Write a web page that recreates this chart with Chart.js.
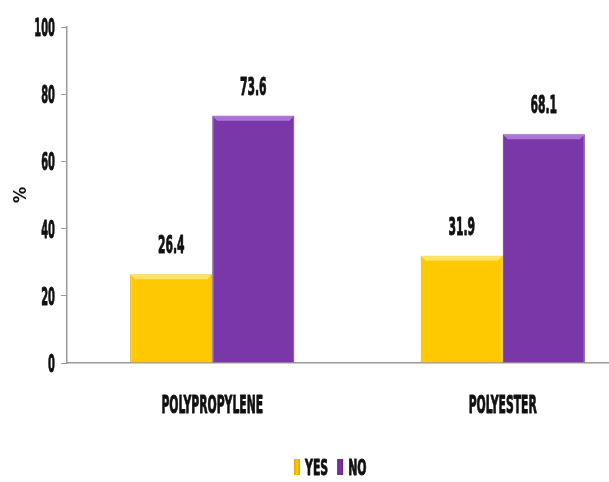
<!DOCTYPE html>
<html>
<head>
<meta charset="utf-8">
<script src="https://cdn.jsdelivr.net/npm/chart.js@4.4.0/dist/chart.umd.min.js"></script>
<style>
  html, body { margin: 0; padding: 0; background: #fff; overflow: hidden; }
  #wrap { width: 648px; height: 482px; }
</style>
</head>
<body>
<div id="wrap"><canvas id="fiberChart" width="648" height="482"></canvas></div>
<script>
const categories = ['POLYPROPYLENE', 'POLYESTER'];
const seriesNames = ['YES', 'NO'];
const yesValues = [26.4, 31.9];
const noValues = [73.6, 68.1];
const yTicks = [0, 20, 40, 60, 80, 100];

const FONT = '"DejaVu Sans Condensed", "DejaVu Sans", sans-serif';
const INK = '#111';

// tall, squeezed lettering: draw with a horizontal scale, slightly stroked for weight
function narrowText(ctx, str, x, y, size, sx, align) {
    ctx.save();
    ctx.font = 'bold ' + size + 'px ' + FONT;
    ctx.fillStyle = INK;
    ctx.strokeStyle = INK;
    ctx.lineWidth = 0.9;
    ctx.lineJoin = 'round';
    ctx.textBaseline = 'alphabetic';
    ctx.textAlign = align || 'center';
    ctx.translate(x, y);
    ctx.scale(sx, 1);
    ctx.fillText(str, 0, 0);
    ctx.strokeText(str, 0, 0);
    ctx.restore();
}

// horizontal shading so the bars look bevelled
function barFill(base, dark) {
    return function(context) {
        const el = context.element;
        const chart = context.chart;
        if (!el || !chart.chartArea) return base;
        const x = el.x, w = el.width;
        if (!Number.isFinite(x) || !Number.isFinite(w) || w <= 0) return base;
        const g = chart.ctx.createLinearGradient(x - w / 2, 0, x + w / 2, 0);
        g.addColorStop(0, dark);
        g.addColorStop(0.06, base);
        g.addColorStop(0.94, base);
        g.addColorStop(1, dark);
        return g;
    };
}

const fills = ['#FFC900', '#7A37A7'];
const edges = ['#E0A800', '#5E2584'];

// lighter strip along the top edge of every bar
const barTops = {
    id: 'barTops',
    afterDatasetsDraw(chart) {
        const ctx = chart.ctx;
        const tops = ['rgba(255,235,120,0.8)', 'rgba(185,130,230,0.8)'];
        ctx.save();
        chart.data.datasets.forEach((ds, i) => {
            chart.getDatasetMeta(i).data.forEach(bar => {
                const half = bar.width / 2;
                ctx.fillStyle = tops[i];
                ctx.beginPath();
                ctx.moveTo(bar.x - half, bar.y);
                ctx.lineTo(bar.x + half, bar.y);
                ctx.lineTo(bar.x + half - 5, bar.y + 5);
                ctx.lineTo(bar.x - half + 5, bar.y + 5);
                ctx.closePath();
                ctx.fill();
            });
        });
        ctx.restore();
    }
};

// all the lettering: tick labels, category names, values, axis title, legend
const lettering = {
    id: 'lettering',
    afterDraw(chart) {
        const ctx = chart.ctx;
        const xs = chart.scales.x, ys = chart.scales.y;

        ys.ticks.forEach(t => {
            narrowText(ctx, String(t.value), ys.right - 12, ys.getPixelForValue(t.value) + 9, 25, 0.44, 'right');
        });

        categories.forEach((c, i) => {
            narrowText(ctx, c, xs.getPixelForValue(i), 413, 25, 0.48);
        });

        chart.data.datasets.forEach((ds, i) => {
            chart.getDatasetMeta(i).data.forEach((bar, j) => {
                narrowText(ctx, ds.data[j].toFixed(1), bar.x, bar.y - 21, 25, 0.48);
            });
        });

        // rotated "%" axis title
        ctx.save();
        ctx.translate(26, (chart.chartArea.top + chart.chartArea.bottom) / 2);
        ctx.rotate(-Math.PI / 2);
        ctx.font = 'bold 18px ' + FONT;
        ctx.fillStyle = INK;
        ctx.textAlign = 'center';
        ctx.textBaseline = 'alphabetic';
        ctx.fillText('%', 0, 0);
        ctx.restore();

        // legend along the bottom
        let x = 294;
        seriesNames.forEach((name, i) => {
            const g = ctx.createLinearGradient(x, 0, x + 6, 0);
            g.addColorStop(0, edges[i]);
            g.addColorStop(0.5, fills[i]);
            g.addColorStop(1, edges[i]);
            ctx.fillStyle = g;
            ctx.fillRect(x, 459, 6, 16);
            ctx.font = 'bold 22px ' + FONT;
            const w = ctx.measureText(name).width * 0.55;
            narrowText(ctx, name, x + 11, 475, 22, 0.55, 'left');
            x += 11 + w + 9;
        });
    }
};

const ctx = document.getElementById('fiberChart').getContext('2d');
let fiberChart = new Chart(ctx, {
    type: 'bar',
    data: {
        labels: categories,
        datasets: [{
            label: seriesNames[0],
            data: yesValues,
            backgroundColor: barFill(fills[0], edges[0]),
            borderColor: '#D9A400',
            borderWidth: 1
        }, {
            label: seriesNames[1],
            data: noValues,
            backgroundColor: barFill(fills[1], edges[1]),
            borderColor: '#5F2A85',
            borderWidth: 1
        }]
    },
    options: {
        responsive: false,
        animation: false,
        layout: { padding: { top: 27, left: 0, right: 0, bottom: 119 } },
        datasets: {
            bar: { categoryPercentage: 0.565, barPercentage: 1.0 }
        },
        plugins: {
            legend: { display: false },
            tooltip: { enabled: false }
        },
        scales: {
            x: {
                afterFit: axis => { axis.height = 0; },
                grid: { display: false, drawTicks: false },
                border: { color: '#9a9a9a', width: 1.5 },
                ticks: { display: false }
            },
            y: {
                min: 0,
                max: 100,
                afterBuildTicks: axis => { axis.ticks = yTicks.map(v => ({ value: v })); },
                afterFit: axis => { axis.width = 67; },
                grid: { drawOnChartArea: false, tickLength: 6, color: '#9a9a9a' },
                border: { color: '#9a9a9a', width: 1.5 },
                ticks: { display: false }
            }
        }
    },
    plugins: [barTops, lettering]
});
</script>
</body>
</html>
